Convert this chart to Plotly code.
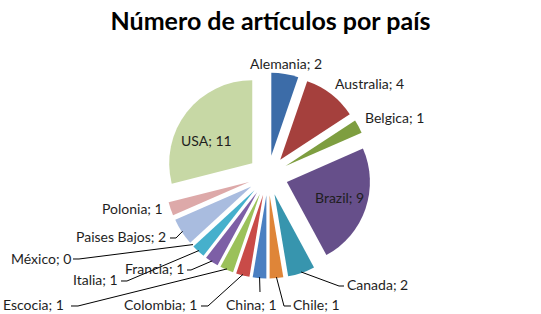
import math
import plotly.graph_objects as go

# ---- data ----
countries = ["Alemania", "Australia", "Belgica", "Brazil", "Canada", "Chile", "China",
             "Colombia", "Escocia", "Francia", "Italia", "México", "Paises Bajos",
             "Polonia", "USA"]
articles = [2, 4, 1, 9, 2, 1, 1, 1, 1, 1, 1, 0, 2, 1, 11]
title_text = "Número de artículos por país"

# ---- style ----
colors = ["#3C6CA8", "#A5403D", "#7E9E40", "#664F8A", "#3795AE", "#DF8538", "#4A7FC1",
          "#C94B48", "#9BC15A", "#7D5FA6", "#46B0CC", "#F79646", "#A9BCDF",
          "#DDA9A9", "#C7D8A5"]
W, H = 541, 314
CX, CY, HALF = 268, 175.5, 103   # pie box centre / half size (px)
PULL = 0.24
FONT = "Lato"
TXT = "#1e1e1e"

# label placement (px)
label_pos = {
    "Alemania": (286, 63), "Australia": (369, 83), "Belgica": (394, 117),
    "Brazil": (339, 197), "USA": (206, 140),
    "Canada": (377, 284), "Chile": (316, 304), "China": (251, 304),
    "Colombia": (160, 304), "Escocia": (33, 304), "Francia": (154, 268),
    "Italia": (95, 279), "México": (41, 258), "Paises Bajos": (121, 236),
    "Polonia": (132, 208),
}
# leader elbows (px), drawn from the slice edge
leaders = {
    "Canada": [(339, 286), (344, 286)],
    "Chile": [(284, 306), (291, 306)],
    "China": [(260, 292)],
    "Colombia": [(208, 306), (201, 306)],
    "Escocia": [(78, 306), (71, 306)],
    "Francia": [(191, 270), (187, 270)],
    "Italia": [(127, 281), (121, 281)],
    "México": [(79, 259), (73, 259)],
    "Paises Bajos": [(176, 238), (170, 238)],
}


def px(x):
    return x / W


def py(y):
    return 1 - y / H


fig = go.Figure(go.Pie(
    labels=countries, values=articles, sort=False, direction="clockwise", rotation=0,
    pull=[PULL] * len(countries),
    marker=dict(colors=colors, line=dict(width=0)),
    textinfo="none",
    domain=dict(x=[px(CX - HALF), px(CX + HALF)], y=[py(CY + HALF), py(CY - HALF)]),
    hoverinfo="label+value",
    showlegend=False,
))

total = sum(articles)
r_out = HALF - 1
annotations = []
shapes = []
cum = 0
for c, v in zip(countries, articles):
    mid = (cum + v / 2) / total * 2 * math.pi
    cum += v
    tx, ty = label_pos[c]
    annotations.append(dict(x=px(tx), y=py(ty), xref="paper", yref="paper",
                            text=f"{c}; {v}", showarrow=False,
                            xanchor="center", yanchor="middle",
                            font=dict(family=FONT, size=14, color=TXT)))
    if c in leaders:
        ax = CX + r_out * math.sin(mid)
        ay = CY - r_out * math.cos(mid)
        pts = [(ax, ay)] + leaders[c]
        path = "M " + " L ".join(f"{px(x):.5f},{py(y):.5f}" for x, y in pts)
        shapes.append(dict(type="path", path=path, xref="paper", yref="paper",
                           line=dict(color="#000000", width=1)))

fig.update_layout(
    width=W, height=H,
    margin=dict(l=0, r=0, t=0, b=0),
    paper_bgcolor="white", plot_bgcolor="white",
    title=dict(text=f"<b>{title_text}</b>", x=0.5, xanchor="center",
               y=py(21), yanchor="middle", yref="container",
               font=dict(family=FONT, size=25, color="#000000")),
    annotations=annotations, shapes=shapes,
)

fig.write_html("out.html")
